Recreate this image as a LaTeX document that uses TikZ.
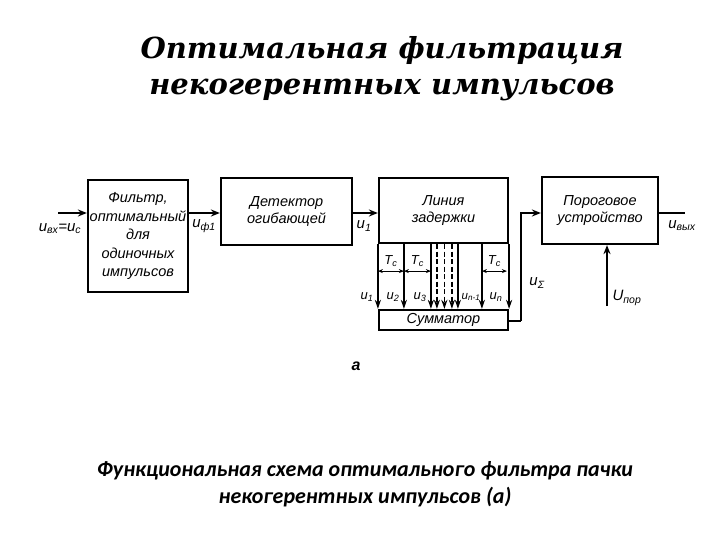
\documentclass[tikz,border=0pt]{standalone}
\usepackage{fontspec}
\setmainfont{Liberation Sans}
\newfontfamily\titlefont{DejaVu Serif}
\newfontfamily\capfont{Carlito}
\usetikzlibrary{arrows.meta,calc}
\newcommand{\usub}[2]{#1\textsubscript{#2}}
\tikzset{
  block/.style={rectangle,draw,line width=2.2pt,inner sep=0,align=center,
                font=\itshape\fontsize{14.5}{16.5}\selectfont},
  wire/.style={line width=2pt},
  arrow/.style={wire,-{Stealth[length=9pt,width=7pt]}},
  tap/.style={line width=1.8pt,-{Stealth[length=9pt,width=6pt]}},
  dtap/.style={tap,dash pattern=on 5pt off 2.5pt},
  span/.style={line width=1.1pt,{Stealth[length=5pt,width=4pt]}-{Stealth[length=5pt,width=4pt]}},
  lab/.style={font=\itshape\fontsize{15}{16}\selectfont,inner sep=0},
  tlab/.style={font=\itshape\fontsize{13}{14}\selectfont,inner sep=0},
  head/.style={font=\titlefont\bfseries\itshape\fontsize{29}{36}\selectfont},
  caption/.style={font=\capfont\bfseries\itshape\fontsize{22}{27}\selectfont,align=center},
}
\begin{document}
\begin{tikzpicture}[x=1pt,y=-1pt]
  \useasboundingbox (0,0) rectangle (720,540);
  % title
  \node[head] (t1) at (382,51) {Оптимальная фильтрация};
  \node[head] (t2) at (382,90) {некогерентных импульсов};
  % blocks
  \node[block,minimum width=100pt,minimum height=112pt,
        font=\itshape\fontsize{14.5}{18.5}\selectfont] (filt) at (138,236)
    {Фильтр,\\оптимальный\\для\\одиночных\\импульсов};
  \node[block,minimum width=131pt,minimum height=67pt] (det) at (286.5,211.5)
    {Детектор\\огибающей};
  \node[block,minimum width=129pt,minimum height=65pt] (delay) at (443.5,210.5)
    {Линия\\задержки};
  \node[block,minimum width=129pt,minimum height=20pt] (sum) at (443.5,320)
    {Сумматор};
  \node[block,minimum width=116pt,minimum height=67pt] (thr) at (600,210.5)
    {Пороговое\\устройство};
  % chain
  \coordinate (in) at (58,213);
  \coordinate (out) at (685,213);
  \draw[arrow] (in) -- (in -| filt.west);
  \draw[arrow] (filt.east |- in) -- (det.west |- in);
  \draw[arrow] (det.east |- in) -- (delay.west |- in);
  \draw[wire] (thr.east |- out) -- (out);
  \node[lab] at (60,229) {\usub{u}{вх}=\usub{u}{c}};
  \node[lab] at (204,226) {\usub{u}{ф1}};
  \node[lab] at (364,226) {\usub{u}{1}};
  \node[lab] at (682,226) {\usub{u}{вых}};
  % taps of the delay line
  \draw[tap] (delay.south west) -- (sum.north west);
  \draw[tap] (delay.south east) -- (sum.north east);
  \foreach \dx in {26,53,80,104} {
    \draw[tap] (delay.south west) ++(\dx,0) coordinate (a) -- (a |- sum.north);
  }
  \foreach \dx in {59,66.5,74} {
    \draw[dtap] (delay.south west) ++(\dx,0) coordinate (a) -- (a |- sum.north);
  }
  \foreach \da/\db in {0/26,26/53,104/129} {
    \draw[span] (delay.south west) ++(\da,27) coordinate (a) -- ++(\db-\da,0);
  }
  \foreach \dx in {13,39.5,116.5} {
    \node[tlab] at ($(delay.south west)+(\dx,17)$) {\usub{T}{c}};
  }
  \node[tlab] at (367,297) {\usub{u}{1}};
  \node[tlab] at (393,297) {\usub{u}{2}};
  \node[tlab] at (420,297) {\usub{u}{3}};
  \node[tlab,font=\itshape\fontsize{11.5}{12}\selectfont] at (471,297) {\usub{u}{n-1}};
  \node[tlab] at (496,297) {\usub{u}{n}};
  % sum to threshold
  \coordinate (bend) at (521,321);
  \draw[wire] (sum.east |- bend) -- (bend);
  \draw[arrow] (bend) -- (bend |- in) -- (thr.west |- in);
  \node[lab] at (537,283) {\usub{u}{Σ}};
  \coordinate (thrin) at (607,306);
  \draw[arrow] (thrin) -- (thrin |- thr.south);
  \node[lab] at (627,298) {\usub{U}{пор}};
  \node[lab,font=\bfseries\itshape\fontsize{16}{16}\selectfont] at (356,366) {а};
  % caption
  \node[caption] (cap) at (365,484)
    {Функциональная схема оптимального фильтра пачки\\некогерентных импульсов (а)};
\end{tikzpicture}
\end{document}
